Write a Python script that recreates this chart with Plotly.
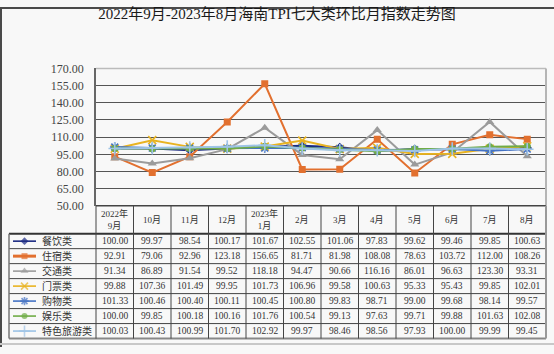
import plotly.graph_objects as go

# ---------------- data ----------------
months = ["2022年<br>9月", "10月", "11月", "12月", "2023年<br>1月", "2月", "3月",
          "4月", "5月", "6月", "7月", "8月"]
names = ["餐饮类", "住宿类", "交通类", "门票类", "购物类", "娱乐类", "特色旅游类"]
catering = [100.00, 99.97, 98.54, 100.17, 101.67, 102.55, 101.06, 97.83, 99.62, 99.46, 99.85, 100.63]
lodging = [92.91, 79.06, 92.96, 123.18, 156.65, 81.71, 81.98, 108.08, 78.63, 103.72, 112.00, 108.26]
transport = [91.34, 86.89, 91.54, 99.52, 118.18, 94.47, 90.66, 116.16, 86.01, 96.63, 123.30, 93.31]
tickets = [99.88, 107.36, 101.49, 99.95, 101.73, 106.96, 99.58, 100.63, 95.33, 95.43, 99.85, 102.01]
shopping = [101.33, 100.46, 100.40, 100.11, 100.45, 100.80, 99.83, 98.71, 99.00, 99.68, 98.14, 99.57]
entertainment = [100.00, 99.85, 100.18, 100.16, 101.76, 100.54, 99.13, 97.63, 99.71, 99.88, 101.63, 102.08]
special = [100.03, 100.43, 100.99, 101.70, 102.92, 99.97, 98.46, 98.56, 97.93, 100.00, 99.99, 99.45]
series = [catering, lodging, transport, tickets, shopping, entertainment, special]
y_ticks = [50, 65, 80, 95, 110, 125, 140, 155, 170]

# ---------------- styles ----------------
colors = ["#1b2a82", "#e2702f", "#9b9b9b", "#e8b321", "#4472c4", "#6fac46", "#9dc3e6"]
symbols = ["diamond", "square", "triangle-up", "x-thin", "asterisk", "circle", "cross-thin"]
msizes = [7, 7, 8, 8, 8, 7, 9]
mline = [0, 0, 0, 1.6, 1.6, 0, 1.6]

W, H = 554, 354
PX0, PX1 = 96, 546
PY0, PY1 = 64, 207
HEAD_B = 236
ROW_H = 15.6
TAB_B = HEAD_B + 7 * ROW_H
LAB_X = 9
CW = (PX1 - PX0) / 12
FONT = "'Liberation Serif', 'Noto Sans CJK SC', serif"
GRID = "#555555"
TXT = "#333333"


def fx(x):
    return x / W


def fy(y):
    return 1 - y / H


fig = go.Figure()
xs = list(range(len(months)))
for name, vals, c, s, ms, lw in zip(names, series, colors, symbols, msizes, mline):
    fig.add_trace(go.Scatter(
        x=xs, y=vals, name=name, mode="lines+markers",
        line=dict(color=c, width=2),
        marker=dict(symbol=s, size=ms, color=c, line=dict(color=c, width=lw)),
        xaxis="x", yaxis="y", showlegend=False, hoverinfo="skip"))

# legend keys in the table's first column (pixel overlay axis)
for r, (c, s, ms, lw) in enumerate(zip(colors, symbols, msizes, mline)):
    yc = HEAD_B + (r + 0.5) * ROW_H
    fig.add_trace(go.Scatter(
        x=[13, 24.5, 36], y=[yc, yc, yc], mode="lines+markers",
        line=dict(color=c, width=1.6 if r != 1 else 3),
        marker=dict(symbol=s, size=[0, ms - 1, 0], color=c, line=dict(color=c, width=lw)),
        xaxis="x2", yaxis="y2", showlegend=False, hoverinfo="skip"))

shapes = []
# plot area top and right border
shapes.append(dict(type="line", xref="paper", yref="paper", x0=fx(PX0), x1=fx(PX1),
                   y0=fy(PY0), y1=fy(PY0), line=dict(color="#bbbbbb", width=1.5)))
shapes.append(dict(type="line", xref="paper", yref="paper", x0=fx(PX1), x1=fx(PX1),
                   y0=fy(PY0), y1=fy(PY1), line=dict(color="#b5b5b5", width=2)))
# table lines
shapes.append(dict(type="line", xref="paper", yref="paper", x0=fx(PX0), x1=fx(PX1),
                   y0=fy(PY1), y1=fy(PY1), line=dict(color="#444", width=1.5)))
shapes.append(dict(type="line", xref="paper", yref="paper", x0=fx(LAB_X), x1=fx(PX1),
                   y0=fy(HEAD_B), y1=fy(HEAD_B), line=dict(color="#333", width=2)))
for k in range(1, 8):
    yk = HEAD_B + k * ROW_H
    shapes.append(dict(type="line", xref="paper", yref="paper", x0=fx(LAB_X), x1=fx(PX1),
                       y0=fy(yk), y1=fy(yk),
                       line=dict(color="#444" if k < 7 else "#888", width=1 if k < 7 else 2)))
shapes.append(dict(type="line", xref="paper", yref="paper", x0=fx(LAB_X), x1=fx(LAB_X),
                   y0=fy(HEAD_B), y1=fy(TAB_B), line=dict(color="#777", width=1.5)))
for i in range(13):
    xi = PX0 + i * CW
    shapes.append(dict(type="line", xref="paper", yref="paper", x0=fx(xi), x1=fx(xi),
                       y0=fy(PY1), y1=fy(TAB_B),
                       line=dict(color="#444" if i < 12 else "#999", width=1 if i < 12 else 2)))
# outer frame
shapes.append(dict(type="line", xref="paper", yref="paper", x0=fx(1), x1=fx(1),
                   y0=fy(0), y1=fy(H), line=dict(color="#4a4a4a", width=2)))
shapes.append(dict(type="line", xref="paper", yref="paper", x0=fx(0), x1=fx(W),
                   y0=fy(1), y1=fy(1), line=dict(color="#4a4a4a", width=2)))
shapes.append(dict(type="line", xref="paper", yref="paper", x0=fx(0), x1=fx(W),
                   y0=fy(351), y1=fy(351), line=dict(color="#c8c8c8", width=2)))

annotations = []
for i, m in enumerate(months):
    annotations.append(dict(xref="paper", yref="paper", x=fx(PX0 + (i + 0.5) * CW),
                            y=fy((PY1 + HEAD_B) / 2), text=m, showarrow=False,
                            xanchor="center", yanchor="middle",
                            font=dict(family=FONT, size=9, color=TXT)))
for r, (name, vals) in enumerate(zip(names, series)):
    yc = HEAD_B + (r + 0.5) * ROW_H
    annotations.append(dict(xref="paper", yref="paper", x=fx(40), y=fy(yc), text=name,
                            showarrow=False, xanchor="left", yanchor="middle",
                            font=dict(family=FONT, size=10, color=TXT)))
    for i, v in enumerate(vals):
        annotations.append(dict(xref="paper", yref="paper", x=fx(PX0 + (i + 0.5) * CW),
                                y=fy(yc), text=f"{v:.2f}", showarrow=False,
                                xanchor="center", yanchor="middle",
                                font=dict(family=FONT, size=9.5, color=TXT)))

fig.update_layout(
    width=W, height=H, margin=dict(l=0, r=0, t=0, b=0),
    paper_bgcolor="#f8f8f8", plot_bgcolor="rgba(0,0,0,0)",
    title=dict(text="2022年9月-2023年8月海南TPI七大类环比月指数走势图",
               x=0.5, xanchor="center", y=fy(14), yanchor="middle",
               font=dict(family=FONT, size=15, color="#1a1a1a")),
    xaxis=dict(domain=[fx(PX0), fx(PX1)], range=[-0.5, 11.5], showticklabels=False,
               showgrid=False, zeroline=False, showline=False, fixedrange=True),
    yaxis=dict(domain=[fy(PY1), fy(PY0)], range=[50, 170], tickvals=y_ticks,
               tickformat=".2f", showgrid=True, gridcolor=GRID, gridwidth=1.3,
               zeroline=False, showline=True, linecolor="#666", linewidth=1.5,
               ticks="", ticklabelstandoff=8,
               tickfont=dict(family=FONT, size=12, color="#444")),
    xaxis2=dict(domain=[0, 1], range=[0, W], visible=False, anchor="y2", fixedrange=True),
    yaxis2=dict(domain=[0, 1], range=[H, 0], visible=False, anchor="x2", fixedrange=True),
    shapes=shapes, annotations=annotations, showlegend=False,
)

fig.write_html("out.html")
